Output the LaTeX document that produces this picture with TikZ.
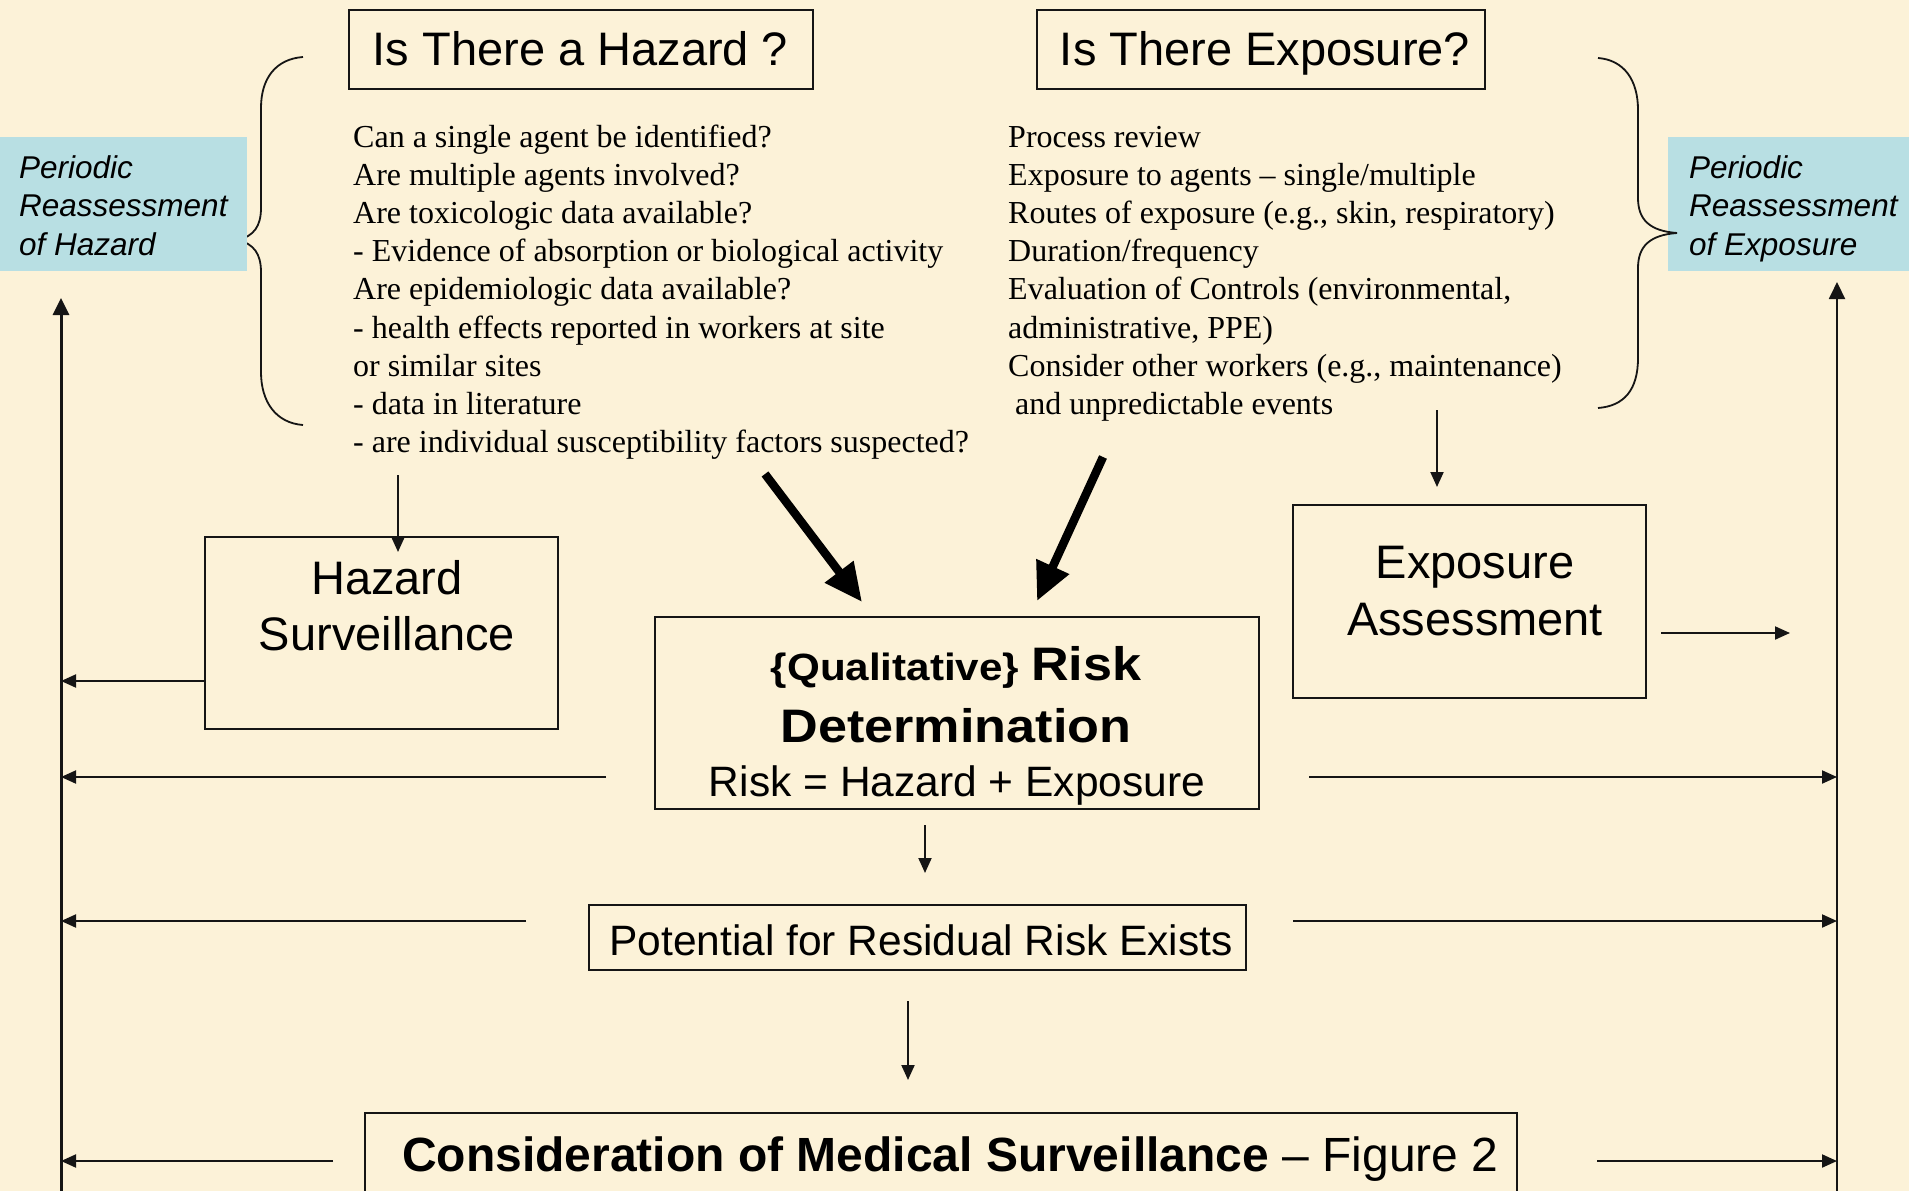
\documentclass[tikz,border=0pt]{standalone}
\usepackage{fontspec}
\setmainfont{Liberation Serif}
\newfontfamily\arial{Liberation Sans}
\usetikzlibrary{arrows.meta,calc}
\definecolor{parch}{HTML}{FCF2D8}
\definecolor{pblue}{HTML}{B8DFE3}
\definecolor{ink}{HTML}{151515}
\newcommand\myfs[1]{\fontsize{#1pt}{#1pt}\selectfont}
\begin{document}
\begin{tikzpicture}[x=1pt,y=-1pt,
  box/.style={draw=ink, line width=2pt, inner sep=0pt},
  perbox/.style={fill=pblue, inner sep=0pt},
  pertext/.style={anchor=base west, inner sep=0pt, font=\arial\itshape\myfs{31.5}},
  lst/.style={anchor=base west, inner sep=0pt, font=\myfs{32}},
  sans/.style={anchor=base, inner sep=0pt, font=\arial\myfs{47}},
  conn/.style={draw=ink, line width=2pt, -{Triangle[length=15pt,width=13pt]}},
  vline/.style={draw=ink, -{Triangle[length=17pt,width=16pt]}},
  bigarrow/.style={draw=black, line width=8.5pt, -{Triangle[length=38pt,width=34pt]}},
  brace/.style={draw=ink, line width=1.8pt}
]
\useasboundingbox (0,0) rectangle (1909,1191);
\clip (0,0) rectangle (1909,1191);
\fill[parch] (0,0) rectangle (1909,1191);

% left brace (tip hidden behind the blue box)
\draw[brace] (303,57) .. controls (276,59) and (261,78) .. (261,108) -- (261,208)
  .. controls (261,226) and (254,236) .. (238,240)
  .. controls (254,244) and (261,254) .. (261,272) -- (261,372)
  .. controls (261,402) and (276,423) .. (303,425);

% periodic reassessment boxes
\node[perbox, minimum width=247pt, minimum height=134pt] (perL) at (123.5,204) {};
\node[perbox, minimum width=241pt, minimum height=134pt] (perR) at (1788.5,204) {};
\foreach \t/\y [count=\i] in {Periodic/178, Reassessment/216.5, of Hazard/255}
  \node[pertext] (pl\i) at (19,\y) {\t};
\foreach \t/\y [count=\i] in {Periodic/178, Reassessment/216.5, of Exposure/255}
  \node[pertext] (pr\i) at (1689,\y) {\t};

% right brace (tip drawn over the blue box)
\draw[brace] (1598,58) .. controls (1624,60) and (1638,80) .. (1638,110) -- (1638,198)
  .. controls (1638,220) and (1650,231) .. (1677,233)
  .. controls (1650,235) and (1638,246) .. (1638,268) -- (1638,358)
  .. controls (1638,390) and (1624,406) .. (1598,408);

% title boxes
\node[box, minimum width=464pt, minimum height=79pt] (haz) at (581,49.5) {};
\node[sans] (hazT) at (580.5,65) {Is There a Hazard ?};
\node[box, minimum width=448pt, minimum height=79pt] (expo) at (1261,49.5) {};
\node[sans] (expoT) at (1265,65) {Is There Exposure?};

% hazard list
\foreach \t [count=\i] in {
  {Can a single agent be identified?},
  {Are multiple agents involved?},
  {Are toxicologic data available?},
  {- Evidence of absorption or biological activity},
  {Are epidemiologic data available?},
  {- health effects reported in workers at site},
  {or similar sites},
  {- data in literature},
  {- are individual susceptibility factors suspected?}}
  \node[lst] (hl\i) at (353,{147+38.2*(\i-1)}) {\t};

% exposure list
\foreach \t [count=\i] in {
  {Process review},
  {Exposure to agents – single/multiple},
  {Routes of exposure (e.g., skin, respiratory)},
  {Duration/frequency},
  {Evaluation of Controls (environmental,},
  {administrative, PPE)},
  {Consider other workers (e.g., maintenance)},
  {\hspace*{7pt}and unpredictable events}}
  \node[lst] (el\i) at (1008,{147+38.2*(\i-1)}) {\t};

% hazard surveillance
\node[box, minimum width=353pt, minimum height=192pt] (hsurv) at (381.5,633) {};
\node[sans] (hs1) at (387,594) {Hazard};
\node[sans] (hs2) at (387,650) {Surveillance};

% exposure assessment
\node[box, minimum width=353pt, minimum height=193pt] (expass) at (1469.5,601.5) {};
\node[sans] (ea1) at (1475,578) {Exposure};
\node[sans] (ea2) at (1475,635) {Assessment};

% risk determination
\node[box, minimum width=604pt, minimum height=192pt] (risk) at (956.5,713) {};
\node[anchor=base, inner sep=0pt, font=\arial\bfseries] (rk1) at (956,680)
  {\scalebox{1.11}[1]{\myfs{38}\{Qualitative\} \myfs{47}Risk}};
\node[anchor=base, inner sep=0pt, font=\arial\bfseries] (rk2) at (956,742)
  {\scalebox{1.11}[1]{\myfs{47}Determination}};
\node[anchor=base, inner sep=0pt, font=\arial\myfs{42.5}] (rk3) at (957,796)
  {Risk = Hazard + Exposure};

% residual risk
\node[box, minimum width=657pt, minimum height=65pt] (resid) at (917.5,937.5) {};
\node[anchor=base, inner sep=0pt, font=\arial\myfs{42.5}] (residT) at (921,955)
  {Potential for Residual Risk Exists};

% medical surveillance (cut by the page bottom)
\node[box, minimum width=1152pt, minimum height=100pt] (med) at (941,1163) {};
\node[anchor=base west, inner sep=0pt, font=\arial\myfs{48}] (medT) at (402,1171)
  {{\bfseries Consideration of Medical Surveillance} – Figure 2};

% side feedback lines
\coordinate (Lbot) at (61,1195);
\coordinate (Ltop) at (61,298);
\coordinate (Rbot) at (1837,1195);
\coordinate (Rtop) at (1837,282);
\draw[vline, line width=3pt] (Lbot) -- (Ltop);
\draw[vline, line width=2pt] (Rbot) -- (Rtop);

% connectors
\coordinate (hA) at (398,475);
\coordinate (hB) at (398,552);
\draw[conn] (hA) -- (hB);
\coordinate (eA) at (1437,410);
\coordinate (eB) at (1437,487);
\draw[conn] (eA) -- (eB);

\coordinate (tA) at (765,474);
\coordinate (tB) at (862,602);
\draw[bigarrow] (tA) -- (tB);
\coordinate (uA) at (1103,457);
\coordinate (uB) at (1037,601);
\draw[bigarrow] (uA) -- (uB);

\coordinate (rA) at (925,825);
\coordinate (rB) at (925,873);
\draw[conn] (rA) -- (rB);
\coordinate (sA) at (908,1001);
\coordinate (sB) at (908,1080);
\draw[conn] (sA) -- (sB);

% to the left line
\coordinate (l1) at (205,681);
\coordinate (l2) at (606,777);
\coordinate (l3) at (526,921);
\coordinate (l4) at (333,1161);
\foreach \c in {l1,l2,l3,l4}
  \draw[conn] (\c) -- (\c -| Ltop);

% to the right line
\coordinate (x1) at (1661,633);
\coordinate (x1e) at (1790,633);
\draw[conn] (x1) -- (x1e);
\coordinate (r2) at (1309,777);
\coordinate (r3) at (1293,921);
\coordinate (r4) at (1597,1161);
\foreach \c in {r2,r3,r4}
  \draw[conn] (\c) -- (\c -| Rtop);
\end{tikzpicture}
\end{document}
